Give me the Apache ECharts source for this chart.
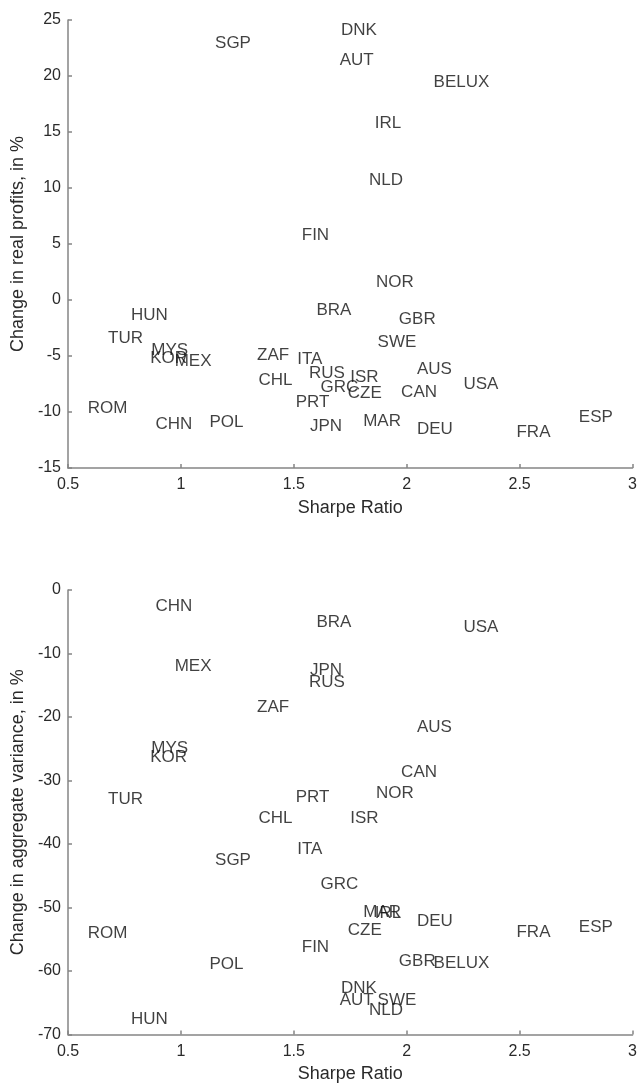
<!DOCTYPE html>
<html>
<head>
<meta charset="utf-8">
<script src="https://cdn.jsdelivr.net/npm/echarts@6/dist/echarts.min.js"></script>
<style>
html,body{margin:0;padding:0;background:#ffffff;}
#chart{width:640px;height:1087px;}
</style>
</head>
<body>
<div id="chart"></div>
<script>
const countries = ['DNK','SGP','AUT','BELUX','IRL','NLD','FIN','NOR','BRA','HUN','GBR','TUR','SWE','MYS','KOR','MEX','ZAF','ITA','AUS','RUS','ISR','CHL','USA','GRC','CZE','CAN','PRT','ROM','ESP','MAR','POL','CHN','JPN','DEU','FRA'];
const sharpeRatio = [1.707,1.149,1.701,2.117,1.856,1.831,1.533,1.862,1.598,0.777,1.963,0.675,1.869,0.867,0.862,0.970,1.335,1.513,2.043,1.565,1.748,1.341,2.249,1.616,1.737,1.973,1.506,0.585,2.760,1.805,1.124,0.885,1.569,2.043,2.484];
const profitChange = [24.1,22.9,21.4,19.4,15.77,10.7,5.8,1.57,-0.89,-1.34,-1.72,-3.42,-3.80,-4.45,-5.2,-5.43,-4.96,-5.28,-6.2,-6.55,-6.88,-7.19,-7.51,-7.82,-8.34,-8.2,-9.17,-9.71,-10.48,-10.8,-10.93,-11.08,-11.28,-11.55,-11.79];
const varianceChange = [-62.65,-42.5,-64.6,-58.8,-50.9,-66.2,-56.26,-31.94,-5.08,-67.64,-58.55,-32.98,-64.6,-24.97,-26.28,-11.94,-18.43,-40.79,-21.57,-14.55,-36.02,-36.02,-5.86,-46.29,-53.6,-28.69,-32.62,-54.05,-53.1,-50.75,-58.88,-2.51,-12.57,-52.22,-53.9];

const xTitle = 'Sharpe Ratio';
const yTitleTop = 'Change in real profits, in %';
const yTitleBottom = 'Change in aggregate variance, in %';

const FONT = "'Liberation Sans', Arial, Helvetica, sans-serif";
const AXIS_COLOR = '#858585';
const LABEL_COLOR = '#2a2a2a';

function xAxisCfg(gridIndex) {
  return {
    type: 'value', gridIndex: gridIndex, min: 0.5, max: 3, interval: 0.5,
    name: xTitle, nameLocation: 'middle', nameGap: 31,
    nameTextStyle: {fontFamily: FONT, fontSize: 18, color: LABEL_COLOR},
    axisLine: {show: true, onZero: false, lineStyle: {color: AXIS_COLOR, width: 1.5}},
    axisTick: {show: true, inside: true, length: 4, lineStyle: {color: AXIS_COLOR, width: 1.5}},
    axisLabel: {fontFamily: FONT, fontSize: 16, color: LABEL_COLOR, margin: 9},
    splitLine: {show: false}
  };
}
function yAxisCfg(gridIndex, min, max, interval, title) {
  return {
    type: 'value', gridIndex: gridIndex, min: min, max: max, interval: interval,
    name: title, nameLocation: 'middle', nameGap: 35,
    nameTextStyle: {fontFamily: FONT, fontSize: 18, color: LABEL_COLOR},
    axisLine: {show: true, onZero: false, lineStyle: {color: AXIS_COLOR, width: 1.5}},
    axisTick: {show: true, inside: true, length: 4, lineStyle: {color: AXIS_COLOR, width: 1.5}},
    axisLabel: {fontFamily: FONT, fontSize: 16, color: LABEL_COLOR, margin: 7},
    splitLine: {show: false}
  };
}
function seriesCfg(idx, yValues) {
  return {
    type: 'scatter', xAxisIndex: idx, yAxisIndex: idx,
    symbol: 'circle', symbolSize: 1,
    itemStyle: {color: 'rgba(0,0,0,0)'},
    label: {
      show: true, position: 'right', distance: 0,
      formatter: function (p) { return p.name; },
      fontFamily: FONT, fontSize: 17, color: '#111111'
    },
    emphasis: {disabled: true},
    data: countries.map(function (c, i) { return {name: c, value: [sharpeRatio[i], yValues[i]]}; })
  };
}

const chart = echarts.init(document.getElementById('chart'), null, {renderer: 'canvas'});
chart.setOption({
  animation: false,
  backgroundColor: '#ffffff',
  grid: [
    {left: 68, top: 20, width: 564.5, height: 448},
    {left: 68, top: 590, width: 564.5, height: 444.5}
  ],
  xAxis: [xAxisCfg(0), xAxisCfg(1)],
  yAxis: [
    yAxisCfg(0, -15, 25, 5, yTitleTop),
    yAxisCfg(1, -70, 0, 10, yTitleBottom)
  ],
  series: [seriesCfg(0, profitChange), seriesCfg(1, varianceChange)]
});
</script>
</body>
</html>
